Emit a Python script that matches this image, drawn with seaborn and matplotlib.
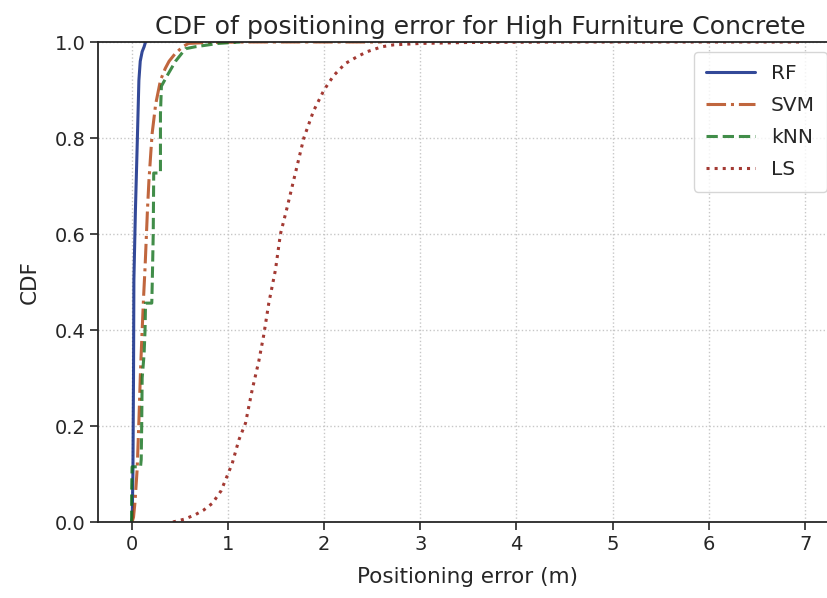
import matplotlib
matplotlib.use("Agg")
import matplotlib.pyplot as plt
import seaborn as sns
import pandas as pd

# ---- data (x = error in m, y = CDF) ----
rf_x = [0.0, 0.007, 0.014, 0.02, 0.024, 0.04, 0.059, 0.076, 0.09, 0.11, 0.13, 0.145]
rf_y = [0.0, 0.01, 0.108, 0.3, 0.504, 0.65, 0.79, 0.92, 0.96, 0.98, 0.99, 1.0]

svm_x = [0.005, 0.02, 0.035, 0.058, 0.076, 0.093, 0.11, 0.125, 0.14, 0.165, 0.18, 0.2,
         0.214, 0.25, 0.3, 0.35, 0.39, 0.45, 0.53, 0.59, 0.8, 1.2, 2.6]
svm_y = [0.0, 0.01, 0.04, 0.11, 0.21, 0.317, 0.4, 0.47, 0.53, 0.65, 0.71, 0.77,
         0.81, 0.87, 0.92, 0.945, 0.96, 0.975, 0.99, 0.997, 0.999, 1.0, 1.0]

knn_x = [0.0, 0.0, 0.005, 0.093, 0.1, 0.105, 0.11, 0.13, 0.14, 0.145, 0.21, 0.215,
         0.225, 0.23, 0.30, 0.30, 0.31, 0.37, 0.457, 0.56, 0.66, 0.9, 1.13]
knn_y = [0.0, 0.06, 0.115, 0.115, 0.13, 0.2, 0.3, 0.35, 0.4, 0.456, 0.456, 0.5,
         0.6, 0.727, 0.727, 0.85, 0.908, 0.93, 0.96, 0.986, 0.99, 0.997, 1.0]

ls_x = [0.43, 0.55, 0.66, 0.75, 0.84, 0.93, 0.976, 1.046, 1.115, 1.184, 1.253, 1.322,
        1.374, 1.426, 1.495, 1.547, 1.61, 1.67, 1.73, 1.79, 1.89, 2.0, 2.1, 2.22,
        2.35, 2.45, 2.6, 2.72, 3.0, 3.5, 4.5, 6.98]
ls_y = [0.0, 0.006, 0.015, 0.025, 0.039, 0.065, 0.0875, 0.122, 0.171, 0.206, 0.275, 0.335,
        0.39, 0.456, 0.525, 0.6, 0.65, 0.70, 0.75, 0.80, 0.856, 0.9, 0.93, 0.955,
        0.97, 0.98, 0.99, 0.994, 0.997, 0.999, 1.0, 1.0]

labels = ["RF", "SVM", "kNN", "LS"]
xs = [rf_x, svm_x, knn_x, ls_x]
ys = [rf_y, svm_y, knn_y, ls_y]
styles = ["-", "-.", "--", ":"]

sns.set_style("ticks")
plt.rcParams["font.family"] = ["DejaVu Sans"]
colors = sns.color_palette("dark", 4)

fig = plt.figure(figsize=(8.28, 5.98), dpi=100)
ax = fig.add_axes([98 / 828, 76 / 598, 738.8 / 828, 480 / 598])

for lab, x, y, st, c in zip(labels, xs, ys, styles, colors):
    df = pd.DataFrame({"x": x, "y": y})
    sns.lineplot(data=df, x="x", y="y", ax=ax, sort=False, estimator=None,
                 color=c, linestyle=st, linewidth=2.2, alpha=0.8, label=lab)

ax.set_ylim(0, 1)
ax.set_xticks(range(0, 8))
ax.set_yticks([0.0, 0.2, 0.4, 0.6, 0.8, 1.0])
ax.grid(True, linestyle=":", linewidth=1.0, color="0.78")
ax.tick_params(labelsize=14, length=5.5, width=1.2, colors="0.15")
ax.set_xlabel("Positioning error (m)", fontsize=15.5, labelpad=10)
ax.set_ylabel("CDF", fontsize=15.5, labelpad=11)
ax.set_title("CDF of positioning error for High Furniture Concrete", fontsize=18.2,
             x=0.517)
for s in ax.spines.values():
    s.set_linewidth(1.3)
    s.set_color("0.15")
ax.legend(loc="upper right", fontsize=14.5, handlelength=2.4, labelspacing=0.65,
          borderpad=0.6)

fig.savefig("out.png", dpi=100)
